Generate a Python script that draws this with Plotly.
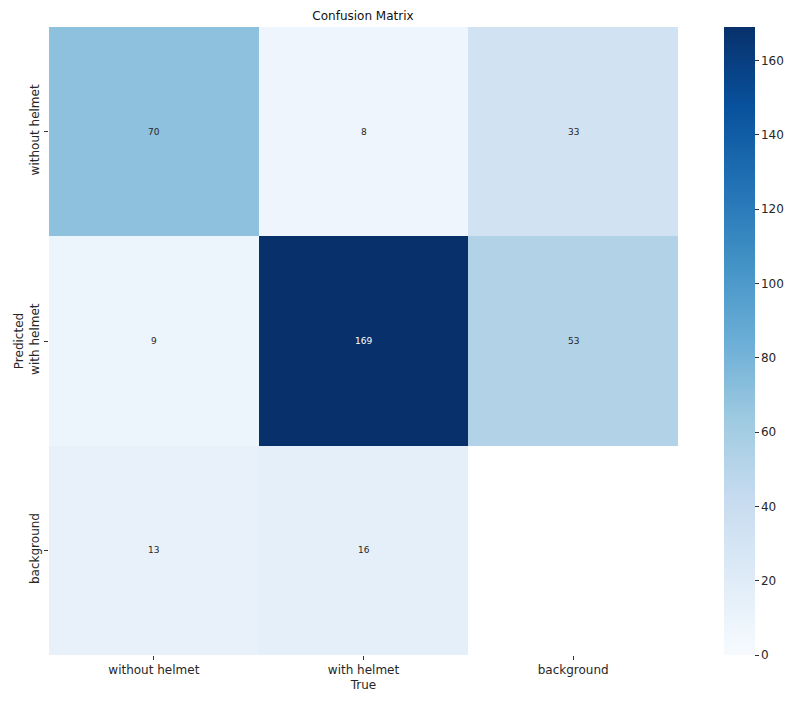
import numpy as np
import plotly.graph_objects as go

CLASSES = ["without helmet", "with helmet", "background"]
# rows = predicted, columns = true; bottom-right cell left empty
COUNTS = [
    [70, 8, 33],
    [9, 169, 53],
    [13, 16, None],
]
CBAR_TICKS = [0, 20, 40, 60, 80, 100, 120, 140, 160]

z = np.array([[np.nan if v is None else v for v in row] for row in COUNTS], dtype=float)
zmax = np.nanmax(z)

# page body has an 8px default margin, so the margins are pulled in by 8px
OFF = 8

fig = go.Figure()
fig.add_trace(go.Heatmap(
    z=z, x=CLASSES, y=CLASSES,
    colorscale="Blues", zmin=0, zmax=zmax,
    xgap=0, ygap=0, hoverongaps=False,
    colorbar=dict(
        thickness=31, len=1, lenmode="fraction", y=0, yanchor="bottom",
        x=1.073, xanchor="left", outlinewidth=0, xpad=0, ypad=0,
        tickvals=CBAR_TICKS, ticks="outside", ticklen=4, tickwidth=1,
        tickcolor="#333", tickfont=dict(size=12, color="#262626"),
    ),
))

# cell labels: white on dark cells, dark on light cells
for i, row in enumerate(COUNTS):
    for j, v in enumerate(row):
        if v is None:
            continue
        fig.add_annotation(
            x=CLASSES[j], y=CLASSES[i], text=str(v), showarrow=False,
            font=dict(size=9, color="white" if v > 0.6 * zmax else "#262626"),
        )

fig.update_layout(
    width=800, height=705,
    margin=dict(l=49 - OFF, r=122 + OFF, t=27 - OFF, b=50 + OFF, autoexpand=False),
    paper_bgcolor="white", plot_bgcolor="white",
    font=dict(family="DejaVu Sans", color="#262626"),
    title=dict(text="Confusion Matrix", x=(363 - OFF) / 800, xanchor="center",
               y=1 - (16 - OFF) / 705, yanchor="middle", font=dict(size=12, color="#111")),
    xaxis=dict(
        title=dict(text="True", font=dict(size=12), standoff=4),
        side="bottom", ticks="outside", ticklen=4, tickcolor="#333",
        tickfont=dict(size=12), showgrid=False, zeroline=False, automargin=False,
    ),
    yaxis=dict(
        title=dict(text="Predicted", font=dict(size=12), standoff=2),
        autorange="reversed", ticks="outside", ticklen=4, tickcolor="#333",
        tickfont=dict(size=12), tickangle=-90, showgrid=False, zeroline=False,
        automargin=False,
    ),
)

fig.write_html("out.html")
